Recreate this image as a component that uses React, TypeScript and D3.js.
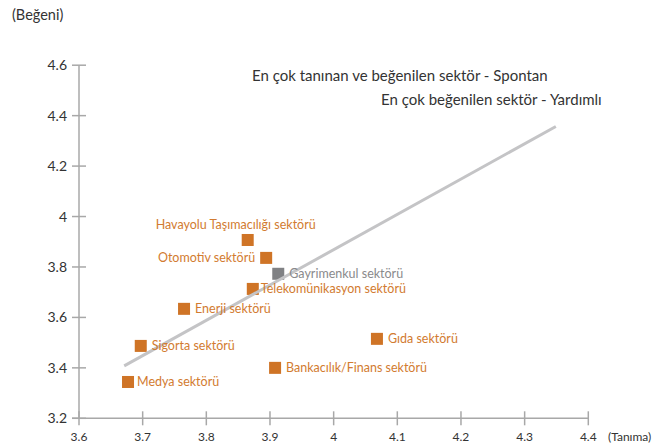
import { useEffect } from 'react'
import * as d3 from 'd3'

const sectors = [
  'Havayolu Taşımacılığı sektörü',
  'Otomotiv sektörü',
  'Gayrimenkul sektörü',
  'Telekomünikasyon sektörü',
  'Enerji sektörü',
  'Sigorta sektörü',
  'Medya sektörü',
  'Bankacılık/Finans sektörü',
  'Gıda sektörü',
]
const tanima = [3.865, 3.894, 3.913, 3.873, 3.765, 3.697, 3.677, 3.908, 4.068]
const begeni = [3.907, 3.836, 3.773, 3.713, 3.634, 3.487, 3.344, 3.4, 3.515]
const highlighted = ['Gayrimenkul sektörü']

const trendX = [3.671, 4.349]
const trendY = [3.408, 4.357]

const xTicks = [3.6, 3.7, 3.8, 3.9, 4, 4.1, 4.2, 4.3, 4.4]
const yTicks = [3.2, 3.4, 3.6, 3.8, 4, 4.2, 4.4, 4.6]

const notes = [
  'En çok tanınan ve beğenilen sektör - Spontan',
  'En çok beğenilen sektör - Yardımlı',
]

const width = 671
const height = 446
const orange = '#cf7426'
const grey = '#808184'
const axisColor = '#a8a8a8'
const font = 'Lato, sans-serif'

export default function App() {
  useEffect(() => {
    document.body.style.margin = '0'
  }, [])

  const x = d3.scaleLinear().domain([3.6, 4.4]).range([79, 588.3])
  const y = d3.scaleLinear().domain([3.2, 4.6]).range([418.3, 65.2])

  const line = d3.line<number>()
    .x((d) => x(d))
    .y((d, i) => y(trendY[i]))

  const sq = 12

  // label placement relative to the square centre
  const labelPos = (name: string) => {
    if (name.startsWith('Havayolu')) return { dx: -12, dy: -12, anchor: 'middle' }
    if (name.startsWith('Otomotiv')) return { dx: -11, dy: 3, anchor: 'end' }
    if (name.startsWith('Telekom')) return { dx: 8, dy: 3, anchor: 'start' }
    if (name.startsWith('Medya')) return { dx: 9, dy: 3, anchor: 'start' }
    return { dx: 11, dy: 3, anchor: 'start' }
  }

  return (
    <svg width={width} height={height} style={{ display: 'block' }} fontFamily={font}>
      <text x={12} y={20} fontSize={14.5} fill="#333">(Beğeni)</text>

      {/* y axis */}
      <line x1={x(3.6)} x2={x(3.6)} y1={y(4.6)} y2={y(3.2)} stroke={axisColor} strokeWidth={1.5} />
      {yTicks.map((t) => (
        <g key={t}>
          <line x1={72} x2={86} y1={y(t)} y2={y(t)} stroke={axisColor} strokeWidth={1.5} />
          <text x={67} y={y(t) + 5} fontSize={14} textAnchor="end" fill="#333">{d3.format('')(t)}</text>
        </g>
      ))}

      {/* x axis */}
      <line x1={72} x2={x(4.4)} y1={y(3.2)} y2={y(3.2)} stroke={axisColor} strokeWidth={1.5} />
      {xTicks.map((t) => (
        <g key={t}>
          <line x1={x(t)} x2={x(t)} y1={y(3.2) - 7} y2={y(3.2) + 7} stroke={axisColor} strokeWidth={1.5} />
          <text x={x(t)} y={441} fontSize={12} textAnchor="middle" fill="#333">{d3.format('')(t)}</text>
        </g>
      ))}
      <text x={608} y={441} fontSize={12} fill="#333">(Tanıma)</text>

      {sectors.map((s, i) => (
        <rect key={s} x={x(tanima[i]) - sq / 2} y={y(begeni[i]) - sq / 2} width={sq} height={sq}
          fill={highlighted.includes(s) ? grey : orange} />
      ))}

      <path d={line(trendX) ?? ''} stroke="#c4c4c6" strokeWidth={3} fill="none" />

      {sectors.map((s, i) => {
        const p = labelPos(s)
        return (
          <text key={s} x={x(tanima[i]) + p.dx} y={y(begeni[i]) + p.dy + 1} fontSize={12.5}
            textAnchor={p.anchor} fill={highlighted.includes(s) ? '#8a8a8c' : '#d27b30'}>{s}</text>
        )
      })}

      <text x={252} y={81} fontSize={15} fill="#333">{notes[0]}</text>
      <text x={381} y={105} fontSize={15} fill="#333">{notes[1]}</text>
    </svg>
  )
}
